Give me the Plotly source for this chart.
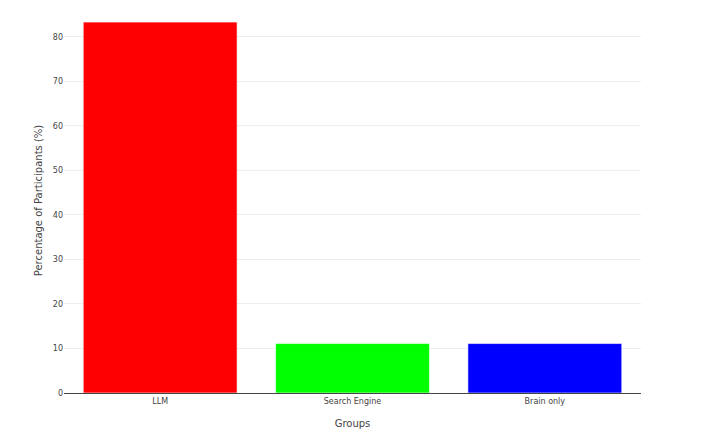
import plotly.graph_objects as go

groups = ["LLM", "Search Engine", "Brain only"]
percentages = [83.33, 11.11, 11.11]
colors = ["#ff0000", "#00ff00", "#0000ff"]

fig = go.Figure(go.Bar(
    x=groups, y=percentages,
    marker=dict(color=colors, line=dict(color="rgba(255,255,255,0.6)", width=1)),
))
fig.update_layout(
    width=708, height=444,
    template="plotly_white",
    margin=dict(l=56, r=75, t=0, b=59),
    font=dict(family="DejaVu Sans, Verdana, sans-serif", size=8, color="#444"),
    showlegend=False,
    xaxis=dict(title=dict(text="Groups", font=dict(size=10)), showline=True, linecolor="#444", linewidth=1,
               ticks="", showgrid=False),
    yaxis=dict(title=dict(text="Percentage of Participants (%)", font=dict(size=10), standoff=8),
               gridcolor="#eeeeee", zeroline=False, dtick=10, range=[0, 86.5]),
    plot_bgcolor="white", paper_bgcolor="white",
)
fig.write_html("out.html")
